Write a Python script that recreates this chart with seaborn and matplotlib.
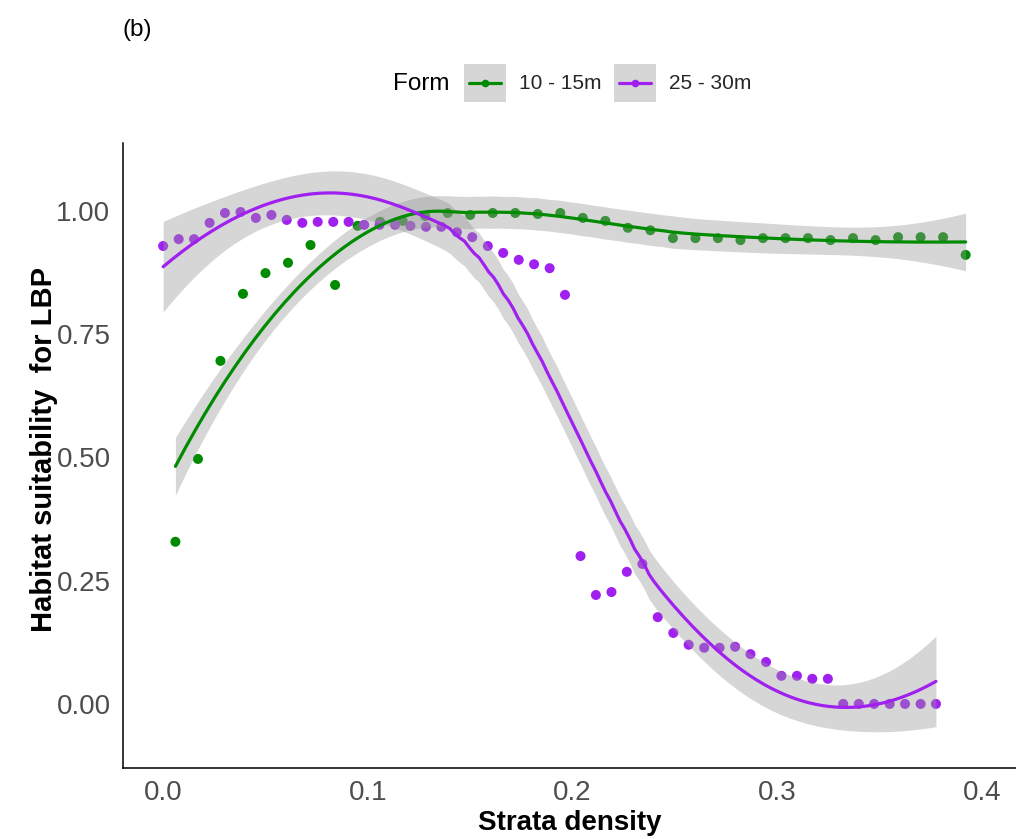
import numpy as np
import pandas as pd
import matplotlib
matplotlib.use("Agg")
import matplotlib.pyplot as plt
import seaborn as sns
from matplotlib.patches import Rectangle
from matplotlib.lines import Line2D

# ---------------- data ----------------
forms = ["10 - 15m", "25 - 30m"]

x_10_15 = [0.006, 0.017, 0.028, 0.039, 0.050, 0.061, 0.072, 0.084, 0.095, 0.106,
           0.117, 0.128, 0.139, 0.150, 0.161, 0.172, 0.183, 0.194, 0.205, 0.216,
           0.227, 0.238, 0.249, 0.260, 0.271, 0.282, 0.293, 0.304, 0.315, 0.326,
           0.337, 0.348, 0.359, 0.370, 0.381, 0.392]
y_10_15 = [0.329, 0.497, 0.696, 0.832, 0.874, 0.895, 0.931, 0.850, 0.970, 0.978,
           0.980, 0.990, 0.996, 0.992, 0.996, 0.996, 0.994, 0.996, 0.986, 0.980,
           0.966, 0.961, 0.945, 0.945, 0.945, 0.941, 0.945, 0.945, 0.945, 0.941,
           0.945, 0.941, 0.947, 0.947, 0.947, 0.911]

x_25_30 = [0.0000, 0.0076, 0.0151, 0.0227, 0.0302, 0.0378, 0.0453, 0.0529, 0.0604, 0.0680,
           0.0755, 0.0831, 0.0906, 0.0982, 0.1057, 0.1133, 0.1208, 0.1284, 0.1359, 0.1435,
           0.1510, 0.1586, 0.1661, 0.1737, 0.1812, 0.1888, 0.1963, 0.2039, 0.2114, 0.2190,
           0.2265, 0.2341, 0.2416, 0.2492, 0.2567, 0.2643, 0.2718, 0.2794, 0.2869, 0.2945,
           0.3020, 0.3096, 0.3171, 0.3247, 0.3322, 0.3398, 0.3473, 0.3549, 0.3624, 0.3700,
           0.3775]
y_25_30 = [0.929, 0.943, 0.943, 0.976, 0.996, 0.998, 0.986, 0.992, 0.982, 0.976,
           0.978, 0.978, 0.978, 0.972, 0.972, 0.972, 0.970, 0.968, 0.968, 0.957,
           0.947, 0.929, 0.915, 0.901, 0.892, 0.884, 0.830, 0.300, 0.221, 0.227,
           0.268, 0.284, 0.176, 0.144, 0.120, 0.114, 0.114, 0.116, 0.101, 0.085,
           0.057, 0.057, 0.051, 0.051, 0.000, 0.000, 0.000, 0.000, 0.000, 0.000,
           0.000]

x_ticks = [0.0, 0.1, 0.2, 0.3, 0.4]
x_tick_labels = ["0.0", "0.1", "0.2", "0.3", "0.4"]
y_ticks = [0.0, 0.25, 0.5, 0.75, 1.0]
y_tick_labels = ["0.00", "0.25", "0.50", "0.75", "1.00"]

colors = {"10 - 15m": "#008B00", "25 - 30m": "#A020F0"}


# ---------------- loess smoother (like ggplot geom_smooth) ----------------
def t_quantile(df, z=1.959964):
    return (z + (z**3 + z) / (4 * df)
            + (5 * z**5 + 16 * z**3 + 3 * z) / (96 * df**2)
            + (3 * z**7 + 19 * z**5 + 17 * z**3 - 15 * z) / (384 * df**3))


def loess(x, y, xs, span=0.75):
    x = np.asarray(x, float)
    y = np.asarray(y, float)
    n = len(x)
    q = int(np.floor(n * span))

    def row(x0):
        d = np.abs(x - x0)
        h = np.sort(d)[q - 1]
        u = np.clip(d / h, 0, 1)
        w = (1 - u**3) ** 3
        X = np.vstack([np.ones(n), x - x0, (x - x0) ** 2]).T
        XtW = X.T * w
        return np.linalg.solve(XtW @ X, XtW)[0]

    L = np.array([row(v) for v in x])
    Ls = np.array([row(v) for v in xs])
    fit = Ls @ y
    IL = np.eye(n) - L
    M = IL.T @ IL
    d1 = np.trace(M)
    d2 = np.trace(M @ M)
    res = y - L @ y
    sigma = np.sqrt(res @ res / d1)
    se = sigma * np.sqrt((Ls**2).sum(axis=1))
    t = t_quantile(d1**2 / d2)
    return fit, fit - t * se, fit + t * se


pts = pd.concat([
    pd.DataFrame({"density": x_10_15, "suit": y_10_15, "Form": forms[0]}),
    pd.DataFrame({"density": x_25_30, "suit": y_25_30, "Form": forms[1]}),
], ignore_index=True)

smooth_frames = []
for f in forms:
    sub = pts[pts["Form"] == f]
    xs = np.linspace(sub["density"].min(), sub["density"].max(), 160)
    fit, lo, hi = loess(sub["density"].values, sub["suit"].values, xs)
    smooth_frames.append(pd.DataFrame({"density": xs, "fit": fit, "lo": lo,
                                       "hi": hi, "Form": f}))
smooth = pd.concat(smooth_frames, ignore_index=True)


# ---------------- legend key like ggplot (grey box + line + point) ----------
class KeyHandler:
    def legend_artist(self, legend, orig_handle, fontsize, handlebox):
        x0, y0 = handlebox.xdescent, handlebox.ydescent
        w, h = handlebox.width, handlebox.height
        tr = handlebox.get_transform()
        rect = Rectangle((-x0, -y0), w, h, facecolor="#999999", alpha=0.4,
                         edgecolor="none", transform=tr)
        cy = -y0 + h / 2
        col = orig_handle.get_color()
        line = Line2D([-x0 + 0.12 * w, -x0 + 0.88 * w], [cy, cy], color=col,
                      linewidth=2.3, transform=tr)
        dot = Line2D([-x0 + w / 2], [cy], marker="o", markersize=5.5,
                     markeredgewidth=0, color=col, linestyle="none",
                     transform=tr)
        handlebox.add_artist(rect)
        handlebox.add_artist(line)
        handlebox.add_artist(dot)
        return rect


# ---------------- plotting ----------------
sns.set_style("white")
plt.rcParams["font.family"] = ["Liberation Sans", "DejaVu Sans"]

W, H = 1016, 839
fig = plt.figure(figsize=(W / 100, H / 100), dpi=100)
ax = fig.add_axes([123 / W, 1 - 768 / H, 1 - 123 / W, (768 - 143) / H])

sns.scatterplot(data=pts, x="density", y="suit", hue="Form", palette=colors,
                s=52, linewidth=0, ax=ax, legend=False, zorder=2)

for f in forms:
    sub = smooth[smooth["Form"] == f]
    ax.fill_between(sub["density"], sub["lo"], sub["hi"], color="#999999",
                    alpha=0.4, linewidth=0, zorder=3)

sns.lineplot(data=smooth, x="density", y="fit", hue="Form", palette=colors,
             linewidth=2.3, ax=ax, legend=False, zorder=4, estimator=None,
             sort=True)

ax.set_xlim(-0.0196, 0.4166)
ax.set_ylim(-0.130, 1.138)
ax.set_xticks(x_ticks)
ax.set_xticklabels(x_tick_labels)
ax.set_yticks(y_ticks)
ax.set_yticklabels(y_tick_labels)

for side in ["top", "right"]:
    ax.spines[side].set_visible(False)
for side in ["left", "bottom"]:
    ax.spines[side].set_linewidth(1.1)
    ax.spines[side].set_color("black")

ax.tick_params(axis="both", which="major", direction="out", length=5, width=1.0,
               color="#333333", labelsize=20, labelcolor="#4D4D4D")
ax.tick_params(axis="x", pad=4)
ax.tick_params(axis="y", pad=4)

ax.set_xlabel("Strata density", fontsize=20, fontweight="bold", color="black")
ax.set_ylabel("Habitat suitability  for LBP", fontsize=21, fontweight="bold",
              color="black")
ax.xaxis.set_label_coords(0.5, -0.0665)
ax.yaxis.set_label_coords(-0.073, 0.509)

# legend
handles = [Line2D([], [], color=colors[f]) for f in forms]
fig.text(393 / W, 1 - 84 / H, "Form", fontsize=17.5, ha="left", va="center",
         color="black")
fig.legend(handles, forms, handler_map={Line2D: KeyHandler()},
           loc="center left", bbox_to_anchor=(464 / W, 1 - 83 / H), ncol=2,
           frameon=False, fontsize=15, handlelength=2.0, handleheight=2.5,
           handletextpad=0.65, columnspacing=0.6, borderpad=0, borderaxespad=0)

fig.text(123 / W, 1 - 30 / H, "(b)", fontsize=17.5, ha="left", va="center",
         color="black")

fig.savefig("out.png", dpi=100)
